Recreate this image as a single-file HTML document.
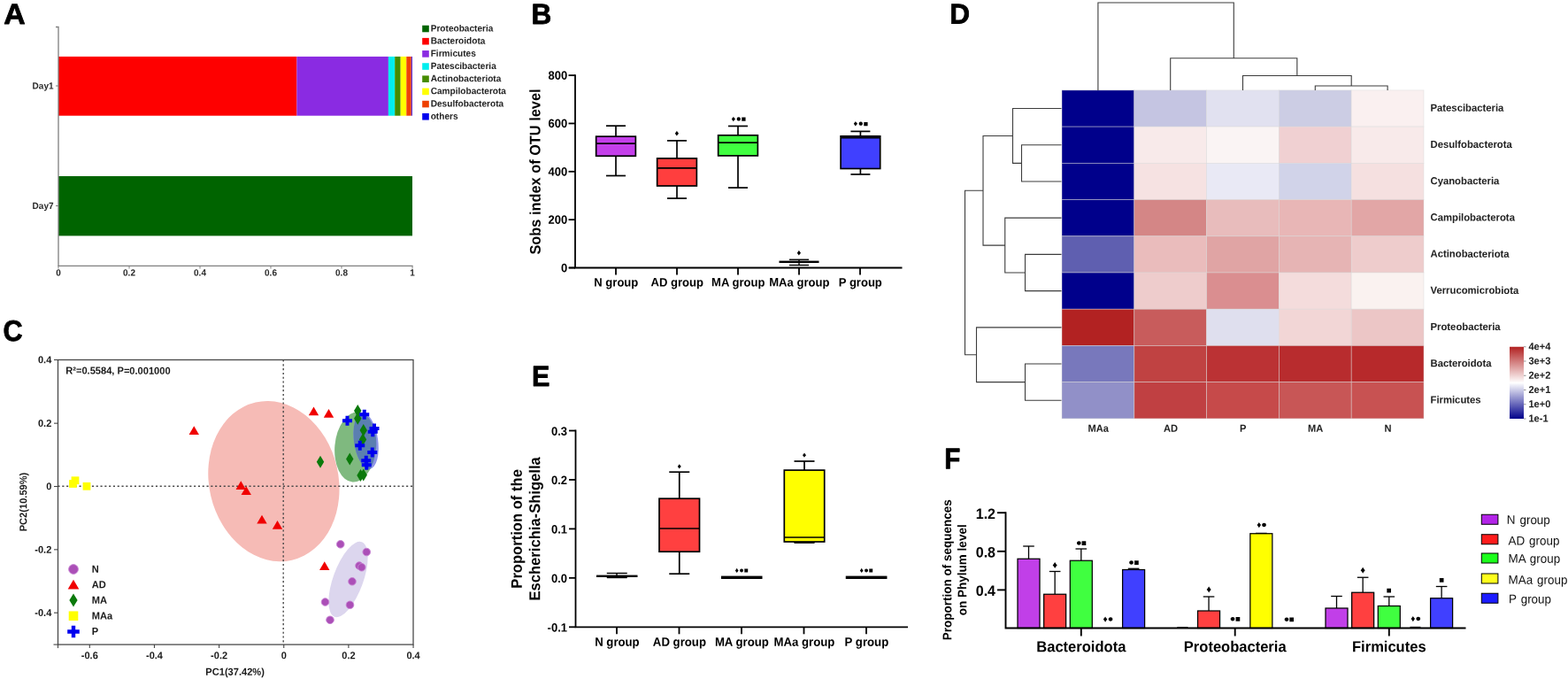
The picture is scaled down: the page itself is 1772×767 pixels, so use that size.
<!DOCTYPE html>
<html lang="en">
<head>
<meta charset="utf-8">
<title>Figure: gut microbiota composition</title>
<style>
html,body{margin:0;padding:0;background:#fff;}
body{width:1772px;height:767px;overflow:hidden;}
svg{display:block;font-family:"Liberation Sans",sans-serif;font-weight:bold;text-rendering:geometricPrecision;}
svg text{white-space:pre;}
</style>
</head>
<body>
<svg width="1772" height="767" viewBox="0 0 1772 767">
<rect x="0" y="0" width="1772" height="767" fill="#ffffff"/>
<!-- Panel A: community bar plot -->
<g id="panel-a">
<rect x="66" y="63.9" width="269.4" height="66.8" fill="#fe0000"/>
<rect x="335.4" y="63.9" width="103.5" height="66.8" fill="#8a2be2"/>
<rect x="438.9" y="63.9" width="7.3" height="66.8" fill="#00eeee"/>
<rect x="446.2" y="63.9" width="6.5" height="66.8" fill="#458b00"/>
<rect x="452.7" y="63.9" width="6.6" height="66.8" fill="#ffff00"/>
<rect x="459.3" y="63.9" width="5.5" height="66.8" fill="#f04208"/>
<rect x="464.8" y="63.9" width="1.2" height="66.8" fill="#5a2ad0"/>
<rect x="66" y="199" width="400" height="67.4" fill="#006400"/>
<path d="M63 30.5H66V300.3H466.5" fill="none" stroke="#7f7f7f" stroke-width="1.3"/>
<line x1="63" y1="97" x2="66" y2="97" stroke="#7f7f7f" stroke-width="1"/>
<line x1="63" y1="232.5" x2="66" y2="232.5" stroke="#7f7f7f" stroke-width="1"/>
<line x1="66" y1="300" x2="66" y2="303.5" stroke="#7f7f7f" stroke-width="1"/>
<text font-size="10" text-anchor="middle" fill="#2a2a2a" transform="translate(66 311.4) rotate(0.05) scale(1 1.04)">0</text>
<line x1="146" y1="300" x2="146" y2="303.5" stroke="#7f7f7f" stroke-width="1"/>
<text font-size="10" text-anchor="middle" fill="#2a2a2a" transform="translate(146 311.4) rotate(0.05) scale(1 1.04)">0.2</text>
<line x1="226" y1="300" x2="226" y2="303.5" stroke="#7f7f7f" stroke-width="1"/>
<text font-size="10" text-anchor="middle" fill="#2a2a2a" transform="translate(226 311.4) rotate(0.05) scale(1 1.04)">0.4</text>
<line x1="306" y1="300" x2="306" y2="303.5" stroke="#7f7f7f" stroke-width="1"/>
<text font-size="10" text-anchor="middle" fill="#2a2a2a" transform="translate(306 311.4) rotate(0.05) scale(1 1.04)">0.6</text>
<line x1="386" y1="300" x2="386" y2="303.5" stroke="#7f7f7f" stroke-width="1"/>
<text font-size="10" text-anchor="middle" fill="#2a2a2a" transform="translate(386 311.4) rotate(0.05) scale(1 1.04)">0.8</text>
<line x1="466" y1="300" x2="466" y2="303.5" stroke="#7f7f7f" stroke-width="1"/>
<text font-size="10" text-anchor="middle" fill="#2a2a2a" transform="translate(466 311.4) rotate(0.05) scale(1 1.04)">1</text>
<text font-size="10" text-anchor="end" fill="#2a2a2a" transform="translate(60.5 100.6) rotate(0.05) scale(1 1.04)">Day1</text>
<text font-size="10" text-anchor="end" fill="#2a2a2a" transform="translate(60.5 236) rotate(0.05) scale(1 1.04)">Day7</text>
<rect x="477.2" y="28.7" width="7.6" height="7.6" fill="#006400"/>
<text font-size="10.1" fill="#222" transform="translate(486.7 35.4) rotate(0.05) scale(1 1.04)">Proteobacteria</text>
<rect x="477.2" y="42.88" width="7.6" height="7.6" fill="#fe0000"/>
<text font-size="10.1" fill="#222" transform="translate(486.7 49.58) rotate(0.05) scale(1 1.04)">Bacteroidota</text>
<rect x="477.2" y="57.06" width="7.6" height="7.6" fill="#8a2be2"/>
<text font-size="10.1" fill="#222" transform="translate(486.7 63.76) rotate(0.05) scale(1 1.04)">Firmicutes</text>
<rect x="477.2" y="71.24" width="7.6" height="7.6" fill="#00eeee"/>
<text font-size="10.1" fill="#222" transform="translate(486.7 77.94) rotate(0.05) scale(1 1.04)">Patescibacteria</text>
<rect x="477.2" y="85.42" width="7.6" height="7.6" fill="#458b00"/>
<text font-size="10.1" fill="#222" transform="translate(486.7 92.12) rotate(0.05) scale(1 1.04)">Actinobacteriota</text>
<rect x="477.2" y="99.6" width="7.6" height="7.6" fill="#ffff00"/>
<text font-size="10.1" fill="#222" transform="translate(486.7 106.3) rotate(0.05) scale(1 1.04)">Campilobacterota</text>
<rect x="477.2" y="113.78" width="7.6" height="7.6" fill="#ee4000"/>
<text font-size="10.1" fill="#222" transform="translate(486.7 120.48) rotate(0.05) scale(1 1.04)">Desulfobacterota</text>
<rect x="477.2" y="127.96" width="7.6" height="7.6" fill="#0000ee"/>
<text font-size="10.1" fill="#222" transform="translate(486.7 134.66) rotate(0.05) scale(1 1.04)">others</text>
</g>
<!-- Panel B: Sobs index box plot -->
<g id="panel-b">
<path d="M650 84.2V302.5H1019.5" fill="none" stroke="#000" stroke-width="1.8"/>
<line x1="643" y1="302.5" x2="650" y2="302.5" stroke="#000" stroke-width="1.8"/>
<line x1="642.5" y1="302.5" x2="650" y2="302.5" stroke="#000" stroke-width="1.8"/>
<text font-size="13" text-anchor="end" transform="translate(641.3 307.15) rotate(0.05) scale(1 1.04)">0</text>
<line x1="642.5" y1="248.15" x2="650" y2="248.15" stroke="#000" stroke-width="1.8"/>
<text font-size="13" text-anchor="end" transform="translate(641.3 252.8) rotate(0.05) scale(1 1.04)">200</text>
<line x1="642.5" y1="193.8" x2="650" y2="193.8" stroke="#000" stroke-width="1.8"/>
<text font-size="13" text-anchor="end" transform="translate(641.3 198.45) rotate(0.05) scale(1 1.04)">400</text>
<line x1="642.5" y1="139.45" x2="650" y2="139.45" stroke="#000" stroke-width="1.8"/>
<text font-size="13" text-anchor="end" transform="translate(641.3 144.1) rotate(0.05) scale(1 1.04)">600</text>
<line x1="642.5" y1="85.1" x2="650" y2="85.1" stroke="#000" stroke-width="1.8"/>
<text font-size="13" text-anchor="end" transform="translate(641.3 89.75) rotate(0.05) scale(1 1.04)">800</text>
<line x1="696" y1="302.5" x2="696" y2="310.5" stroke="#000" stroke-width="1.8"/>
<text font-size="13.05" text-anchor="middle" transform="translate(696.3 323.4) rotate(0.05) scale(1 1.04)">N group</text>
<line x1="765" y1="302.5" x2="765" y2="310.5" stroke="#000" stroke-width="1.8"/>
<text font-size="13.05" text-anchor="middle" transform="translate(765.3 323.4) rotate(0.05) scale(1 1.04)">AD group</text>
<line x1="834" y1="302.5" x2="834" y2="310.5" stroke="#000" stroke-width="1.8"/>
<text font-size="13.05" text-anchor="middle" transform="translate(834.3 323.4) rotate(0.05) scale(1 1.04)">MA group</text>
<line x1="903" y1="302.5" x2="903" y2="310.5" stroke="#000" stroke-width="1.8"/>
<text font-size="13.05" text-anchor="middle" transform="translate(903.3 323.4) rotate(0.05) scale(1 1.04)">MAa group</text>
<line x1="972" y1="302.5" x2="972" y2="310.5" stroke="#000" stroke-width="1.8"/>
<text font-size="13.05" text-anchor="middle" transform="translate(972.3 323.4) rotate(0.05) scale(1 1.04)">P group</text>
<text y="5.38" font-size="16.35" text-anchor="middle" transform="translate(605 194) rotate(-90.05) scale(1 1.04)">Sobs index of OTU level</text>
<line x1="696" y1="142.15" x2="696" y2="154.15" stroke="#000" stroke-width="1.7"/>
<line x1="696" y1="176.25" x2="696" y2="198.5" stroke="#000" stroke-width="1.7"/>
<line x1="685" y1="142.15" x2="707" y2="142.15" stroke="#000" stroke-width="1.7"/>
<line x1="685" y1="198.5" x2="707" y2="198.5" stroke="#000" stroke-width="1.7"/>
<rect x="673.65" y="154.15" width="44.7" height="22.1" fill="#c43fea" stroke="#000" stroke-width="1.7"/>
<line x1="673.65" y1="162.15" x2="718.35" y2="162.15" stroke="#000" stroke-width="1.7"/>
<line x1="765" y1="158.9" x2="765" y2="178.9" stroke="#000" stroke-width="1.7"/>
<line x1="765" y1="210" x2="765" y2="224.05" stroke="#000" stroke-width="1.7"/>
<line x1="754" y1="158.9" x2="776" y2="158.9" stroke="#000" stroke-width="1.7"/>
<line x1="754" y1="224.05" x2="776" y2="224.05" stroke="#000" stroke-width="1.7"/>
<rect x="742.65" y="178.9" width="44.7" height="31.1" fill="#ff3e3e" stroke="#000" stroke-width="1.7"/>
<line x1="742.65" y1="189.9" x2="787.35" y2="189.9" stroke="#000" stroke-width="1.7"/>
<line x1="834" y1="142.45" x2="834" y2="152.8" stroke="#000" stroke-width="1.7"/>
<line x1="834" y1="175.9" x2="834" y2="212.05" stroke="#000" stroke-width="1.7"/>
<line x1="823" y1="142.45" x2="845" y2="142.45" stroke="#000" stroke-width="1.7"/>
<line x1="823" y1="212.05" x2="845" y2="212.05" stroke="#000" stroke-width="1.7"/>
<rect x="811.65" y="152.8" width="44.7" height="23.1" fill="#40ff40" stroke="#000" stroke-width="1.7"/>
<line x1="811.65" y1="161.05" x2="856.35" y2="161.05" stroke="#000" stroke-width="1.7"/>
<line x1="972.4" y1="148.4" x2="972.4" y2="153.8" stroke="#000" stroke-width="1.7"/>
<line x1="972.4" y1="190.5" x2="972.4" y2="196.95" stroke="#000" stroke-width="1.7"/>
<line x1="961.4" y1="148.4" x2="983.4" y2="148.4" stroke="#000" stroke-width="1.7"/>
<line x1="961.4" y1="196.95" x2="983.4" y2="196.95" stroke="#000" stroke-width="1.7"/>
<rect x="950.1" y="153.8" width="44.6" height="36.7" fill="#4040ff" stroke="#000" stroke-width="1.7"/>
<line x1="950.1" y1="155.5" x2="994.7" y2="155.5" stroke="#000" stroke-width="1.8"/>
<line x1="892" y1="293.25" x2="914" y2="293.25" stroke="#000" stroke-width="1.4"/>
<line x1="892" y1="299.5" x2="914" y2="299.5" stroke="#000" stroke-width="1.4"/>
<line x1="903" y1="293.25" x2="903" y2="299.5" stroke="#000" stroke-width="1.4"/>
<rect x="880.5" y="294.6" width="45" height="2.4" fill="#000"/>
<text y="153.52" text-anchor="middle" font-weight="normal" transform="rotate(0.05 765 153.52)"><tspan x="765" font-size="9.46">♦</tspan></text>
<text y="137.24" text-anchor="middle" font-weight="normal" transform="rotate(0.05 834.7 137.24)"><tspan x="828.85" font-size="9.36">♦</tspan><tspan x="834.7" font-size="10">●</tspan><tspan x="840.55" font-size="8.88">■</tspan></text>
<text y="142.64" text-anchor="middle" font-weight="normal" transform="rotate(0.05 972.7 142.64)"><tspan x="966.85" font-size="9.36">♦</tspan><tspan x="972.7" font-size="10">●</tspan><tspan x="978.55" font-size="8.88">■</tspan></text>
<text y="288.52" text-anchor="middle" font-weight="normal" transform="rotate(0.05 903 288.52)"><tspan x="903" font-size="9.46">♦</tspan></text>
</g>
<!-- Panel C: PCoA -->
<g id="panel-c">
<ellipse cx="309.4" cy="543.6" rx="73.1" ry="91.4" fill="#f6bbb6" transform="rotate(-13 309.4 543.6)"/>
<ellipse cx="401.7" cy="505" rx="23.4" ry="39.6" fill="#7fb97f" transform="rotate(5 401.7 505)"/>
<ellipse cx="413.6" cy="498" rx="13.6" ry="32" fill="#8f97e8" transform="rotate(-8 413.6 498)"/>
<clipPath id="cg"><ellipse cx="401.7" cy="505" rx="23.4" ry="39.6" transform="rotate(5 401.7 505)"/></clipPath>
<g clip-path="url(#cg)"><ellipse cx="413.6" cy="498" rx="13.6" ry="32" fill="#5b7fb0" transform="rotate(-8 413.6 498)"/></g>
<ellipse cx="393.5" cy="654.5" rx="17" ry="45" fill="#dcd6ee" transform="rotate(20 393.5 654.5)"/>
<line x1="65.5" y1="549.2" x2="467" y2="549.2" stroke="#4a4a4a" stroke-width="1.4" stroke-dasharray="2.1 2.7"/>
<line x1="320.2" y1="406.5" x2="320.2" y2="728.1" stroke="#4a4a4a" stroke-width="1.4" stroke-dasharray="2.1 2.7"/>
<rect x="65.5" y="406.5" width="401.5" height="321.6" fill="none" stroke="#444" stroke-width="1.25"/>
<line x1="60.5" y1="728.1" x2="65.5" y2="728.1" stroke="#444" stroke-width="1.1"/>
<line x1="61" y1="406.5" x2="65.5" y2="406.5" stroke="#444" stroke-width="1.1"/>
<text font-size="11" text-anchor="end" fill="#1a1a1a" transform="translate(58.3 410.34) rotate(0.05) scale(1 1.04)">0.4</text>
<line x1="61" y1="478.15" x2="65.5" y2="478.15" stroke="#444" stroke-width="1.1"/>
<text font-size="11" text-anchor="end" fill="#1a1a1a" transform="translate(58.3 481.99) rotate(0.05) scale(1 1.04)">0.2</text>
<line x1="61" y1="549.5" x2="65.5" y2="549.5" stroke="#444" stroke-width="1.1"/>
<text font-size="11" text-anchor="end" fill="#1a1a1a" transform="translate(58.3 553.34) rotate(0.05) scale(1 1.04)">0</text>
<line x1="61" y1="620.85" x2="65.5" y2="620.85" stroke="#444" stroke-width="1.1"/>
<text font-size="11" text-anchor="end" fill="#1a1a1a" transform="translate(58.3 624.69) rotate(0.05) scale(1 1.04)">-0.2</text>
<line x1="61" y1="692.2" x2="65.5" y2="692.2" stroke="#444" stroke-width="1.1"/>
<text font-size="11" text-anchor="end" fill="#1a1a1a" transform="translate(58.3 696.04) rotate(0.05) scale(1 1.04)">-0.4</text>
<line x1="101.3" y1="728.1" x2="101.3" y2="732.1" stroke="#444" stroke-width="1.1"/>
<text font-size="11" text-anchor="middle" fill="#1a1a1a" transform="translate(101.3 744.14) rotate(0.05) scale(1 1.04)">-0.6</text>
<line x1="174.45" y1="728.1" x2="174.45" y2="732.1" stroke="#444" stroke-width="1.1"/>
<text font-size="11" text-anchor="middle" fill="#1a1a1a" transform="translate(174.45 744.14) rotate(0.05) scale(1 1.04)">-0.4</text>
<line x1="247.6" y1="728.1" x2="247.6" y2="732.1" stroke="#444" stroke-width="1.1"/>
<text font-size="11" text-anchor="middle" fill="#1a1a1a" transform="translate(247.6 744.14) rotate(0.05) scale(1 1.04)">-0.2</text>
<line x1="320.75" y1="728.1" x2="320.75" y2="732.1" stroke="#444" stroke-width="1.1"/>
<text font-size="11" text-anchor="middle" fill="#1a1a1a" transform="translate(320.75 744.14) rotate(0.05) scale(1 1.04)">0</text>
<line x1="393.9" y1="728.1" x2="393.9" y2="732.1" stroke="#444" stroke-width="1.1"/>
<text font-size="11" text-anchor="middle" fill="#1a1a1a" transform="translate(393.9 744.14) rotate(0.05) scale(1 1.04)">0.2</text>
<line x1="467.05" y1="728.1" x2="467.05" y2="732.1" stroke="#444" stroke-width="1.1"/>
<text font-size="11" text-anchor="middle" fill="#1a1a1a" transform="translate(467.05 744.14) rotate(0.05) scale(1 1.04)">0.4</text>
<line x1="65.5" y1="728.1" x2="65.5" y2="732.1" stroke="#444" stroke-width="1.1"/>
<text font-size="11.1" text-anchor="middle" fill="#1a1a1a" transform="translate(265.6 762.67) rotate(0.05) scale(1 1.04)">PC1(37.42%)</text>
<text y="3.65" font-size="11.1" text-anchor="middle" fill="#1a1a1a" transform="translate(26.5 567) rotate(-90.05) scale(1 1.04)">PC2(10.59%)</text>
<text font-size="11.1" fill="#1a1a1a" transform="translate(74.2 422.57) rotate(0.05) scale(1 1.04)">R²=0.5584, P=0.001000</text>
<rect x="80.6" y="538.35" width="8.8" height="8.8" fill="#ffff00"/>
<rect x="78.1" y="542.1" width="8.8" height="8.8" fill="#ffff00"/>
<rect x="93.6" y="544.9" width="8.8" height="8.8" fill="#ffff00"/>
<path d="M219.25 481.22L224.95 491.02L213.55 491.02Z" fill="#f00000"/>
<path d="M354.5 459.47L360.2 469.27L348.8 469.27Z" fill="#f00000"/>
<path d="M371.5 461.97L377.2 471.77L365.8 471.77Z" fill="#f00000"/>
<path d="M272.25 543.22L277.95 553.02L266.55 553.02Z" fill="#f00000"/>
<path d="M278.25 549.22L283.95 559.02L272.55 559.02Z" fill="#f00000"/>
<path d="M296 581.72L301.7 591.52L290.3 591.52Z" fill="#f00000"/>
<path d="M313.5 587.97L319.2 597.77L307.8 597.77Z" fill="#f00000"/>
<path d="M366.75 634.22L372.45 644.02L361.05 644.02Z" fill="#f00000"/>
<path d="M404.25 456.9L408.45 464L404.25 471.1L400.05 464Z" fill="#0b7a0b"/>
<path d="M404.25 465.65L408.45 472.75L404.25 479.85L400.05 472.75Z" fill="#0b7a0b"/>
<path d="M410.75 478.9L414.95 486L410.75 493.1L406.55 486Z" fill="#0b7a0b"/>
<path d="M410 489.4L414.2 496.5L410 503.6L405.8 496.5Z" fill="#0b7a0b"/>
<path d="M395.25 511.4L399.45 518.5L395.25 525.6L391.05 518.5Z" fill="#0b7a0b"/>
<path d="M362 514.65L366.2 521.75L362 528.85L357.8 521.75Z" fill="#0b7a0b"/>
<path d="M407.5 529.9L411.7 537L407.5 544.1L403.3 537Z" fill="#0b7a0b"/>
<path d="M410.75 529.4L414.95 536.5L410.75 543.6L406.55 536.5Z" fill="#0b7a0b"/>
<path d="M390.5 469.75h4v3.5h3.5v4h-3.5v3.5h-4v-3.5h-3.5v-4h3.5z" fill="#0000ee"/>
<path d="M409.75 462.75h4v3.5h3.5v4h-3.5v3.5h-4v-3.5h-3.5v-4h3.5z" fill="#0000ee"/>
<path d="M421 478.5h4v3.5h3.5v4h-3.5v3.5h-4v-3.5h-3.5v-4h3.5z" fill="#0000ee"/>
<path d="M419.25 482.25h4v3.5h3.5v4h-3.5v3.5h-4v-3.5h-3.5v-4h3.5z" fill="#0000ee"/>
<path d="M404.75 497.75h4v3.5h3.5v4h-3.5v3.5h-4v-3.5h-3.5v-4h3.5z" fill="#0000ee"/>
<path d="M418.75 505.5h4v3.5h3.5v4h-3.5v3.5h-4v-3.5h-3.5v-4h3.5z" fill="#0000ee"/>
<path d="M411.75 514.75h4v3.5h3.5v4h-3.5v3.5h-4v-3.5h-3.5v-4h3.5z" fill="#0000ee"/>
<path d="M412.25 519.75h4v3.5h3.5v4h-3.5v3.5h-4v-3.5h-3.5v-4h3.5z" fill="#0000ee"/>
<circle cx="384.75" cy="614.8" r="4.3" fill="#ab4fb7" stroke="#c682d3" stroke-width="0.9"/>
<circle cx="414.25" cy="623.55" r="4.3" fill="#ab4fb7" stroke="#c682d3" stroke-width="0.9"/>
<circle cx="406" cy="639.05" r="4.3" fill="#ab4fb7" stroke="#c682d3" stroke-width="0.9"/>
<circle cx="408.75" cy="640.8" r="4.3" fill="#ab4fb7" stroke="#c682d3" stroke-width="0.9"/>
<circle cx="398" cy="656.8" r="4.3" fill="#ab4fb7" stroke="#c682d3" stroke-width="0.9"/>
<circle cx="367.5" cy="680.05" r="4.3" fill="#ab4fb7" stroke="#c682d3" stroke-width="0.9"/>
<circle cx="395.5" cy="683.3" r="4.3" fill="#ab4fb7" stroke="#c682d3" stroke-width="0.9"/>
<circle cx="373" cy="700.3" r="4.3" fill="#ab4fb7" stroke="#c682d3" stroke-width="0.9"/>
<circle cx="83" cy="643" r="5.4" fill="#ab4fb7" stroke="#c682d3" stroke-width="0.9"/>
<path d="M83 654.7L89.3 665.53L76.7 665.53Z" fill="#f00000"/>
<path d="M83 670.6L87.6 678L83 685.4L78.4 678Z" fill="#0b7a0b"/>
<rect x="77.7" y="690.45" width="10.6" height="10.6" fill="#ffff00"/>
<path d="M80.8 706.7h4.4v4.6h4.6v4.4h-4.6v4.6h-4.4v-4.6h-4.6v-4.4h4.6z" fill="#0000ee"/>
<text font-size="11.1" fill="#1a1a1a" transform="translate(103.7 646.77) rotate(0.05) scale(1 1.04)">N</text>
<text font-size="11.1" fill="#1a1a1a" transform="translate(103.7 664.27) rotate(0.05) scale(1 1.04)">AD</text>
<text font-size="11.1" fill="#1a1a1a" transform="translate(103.7 681.77) rotate(0.05) scale(1 1.04)">MA</text>
<text font-size="11.1" fill="#1a1a1a" transform="translate(103.7 699.52) rotate(0.05) scale(1 1.04)">MAa</text>
<text font-size="11.1" fill="#1a1a1a" transform="translate(103.7 717.02) rotate(0.05) scale(1 1.04)">P</text>
</g>
<!-- Panel D: heatmap -->
<g id="panel-d">
<rect x="1200" y="101.9" width="81.8" height="41.22" fill="#00008b" stroke="#d8d8d8" stroke-width="0.75" stroke-opacity="0.6"/>
<rect x="1281.8" y="101.9" width="81.8" height="41.22" fill="#c5c5e2" stroke="#d8d8d8" stroke-width="0.75" stroke-opacity="0.6"/>
<rect x="1363.6" y="101.9" width="81.8" height="41.22" fill="#e1e1f0" stroke="#d8d8d8" stroke-width="0.75" stroke-opacity="0.6"/>
<rect x="1445.4" y="101.9" width="81.8" height="41.22" fill="#cccde4" stroke="#d8d8d8" stroke-width="0.75" stroke-opacity="0.6"/>
<rect x="1527.2" y="101.9" width="81.8" height="41.22" fill="#faf0f0" stroke="#d8d8d8" stroke-width="0.75" stroke-opacity="0.6"/>
<rect x="1200" y="143.12" width="81.8" height="41.22" fill="#00008b" stroke="#d8d8d8" stroke-width="0.75" stroke-opacity="0.6"/>
<rect x="1281.8" y="143.12" width="81.8" height="41.22" fill="#f8eaea" stroke="#d8d8d8" stroke-width="0.75" stroke-opacity="0.6"/>
<rect x="1363.6" y="143.12" width="81.8" height="41.22" fill="#faf4f4" stroke="#d8d8d8" stroke-width="0.75" stroke-opacity="0.6"/>
<rect x="1445.4" y="143.12" width="81.8" height="41.22" fill="#f0d0d2" stroke="#d8d8d8" stroke-width="0.75" stroke-opacity="0.6"/>
<rect x="1527.2" y="143.12" width="81.8" height="41.22" fill="#f8eaea" stroke="#d8d8d8" stroke-width="0.75" stroke-opacity="0.6"/>
<rect x="1200" y="184.34" width="81.8" height="41.22" fill="#00008b" stroke="#d8d8d8" stroke-width="0.75" stroke-opacity="0.6"/>
<rect x="1281.8" y="184.34" width="81.8" height="41.22" fill="#f6e2e2" stroke="#d8d8d8" stroke-width="0.75" stroke-opacity="0.6"/>
<rect x="1363.6" y="184.34" width="81.8" height="41.22" fill="#e9e9f5" stroke="#d8d8d8" stroke-width="0.75" stroke-opacity="0.6"/>
<rect x="1445.4" y="184.34" width="81.8" height="41.22" fill="#d1d3e9" stroke="#d8d8d8" stroke-width="0.75" stroke-opacity="0.6"/>
<rect x="1527.2" y="184.34" width="81.8" height="41.22" fill="#f5e0e0" stroke="#d8d8d8" stroke-width="0.75" stroke-opacity="0.6"/>
<rect x="1200" y="225.56" width="81.8" height="41.22" fill="#00008b" stroke="#d8d8d8" stroke-width="0.75" stroke-opacity="0.6"/>
<rect x="1281.8" y="225.56" width="81.8" height="41.22" fill="#d48686" stroke="#d8d8d8" stroke-width="0.75" stroke-opacity="0.6"/>
<rect x="1363.6" y="225.56" width="81.8" height="41.22" fill="#e8bcbc" stroke="#d8d8d8" stroke-width="0.75" stroke-opacity="0.6"/>
<rect x="1445.4" y="225.56" width="81.8" height="41.22" fill="#e8b6b6" stroke="#d8d8d8" stroke-width="0.75" stroke-opacity="0.6"/>
<rect x="1527.2" y="225.56" width="81.8" height="41.22" fill="#e2a6a6" stroke="#d8d8d8" stroke-width="0.75" stroke-opacity="0.6"/>
<rect x="1200" y="266.78" width="81.8" height="41.22" fill="#5f5fb0" stroke="#d8d8d8" stroke-width="0.75" stroke-opacity="0.6"/>
<rect x="1281.8" y="266.78" width="81.8" height="41.22" fill="#eabcbc" stroke="#d8d8d8" stroke-width="0.75" stroke-opacity="0.6"/>
<rect x="1363.6" y="266.78" width="81.8" height="41.22" fill="#e0a4a4" stroke="#d8d8d8" stroke-width="0.75" stroke-opacity="0.6"/>
<rect x="1445.4" y="266.78" width="81.8" height="41.22" fill="#e6b4b4" stroke="#d8d8d8" stroke-width="0.75" stroke-opacity="0.6"/>
<rect x="1527.2" y="266.78" width="81.8" height="41.22" fill="#eecccc" stroke="#d8d8d8" stroke-width="0.75" stroke-opacity="0.6"/>
<rect x="1200" y="308" width="81.8" height="41.22" fill="#00008b" stroke="#d8d8d8" stroke-width="0.75" stroke-opacity="0.6"/>
<rect x="1281.8" y="308" width="81.8" height="41.22" fill="#eecccc" stroke="#d8d8d8" stroke-width="0.75" stroke-opacity="0.6"/>
<rect x="1363.6" y="308" width="81.8" height="41.22" fill="#da8e90" stroke="#d8d8d8" stroke-width="0.75" stroke-opacity="0.6"/>
<rect x="1445.4" y="308" width="81.8" height="41.22" fill="#f4dcdc" stroke="#d8d8d8" stroke-width="0.75" stroke-opacity="0.6"/>
<rect x="1527.2" y="308" width="81.8" height="41.22" fill="#faf2f0" stroke="#d8d8d8" stroke-width="0.75" stroke-opacity="0.6"/>
<rect x="1200" y="349.22" width="81.8" height="41.22" fill="#b22222" stroke="#d8d8d8" stroke-width="0.75" stroke-opacity="0.6"/>
<rect x="1281.8" y="349.22" width="81.8" height="41.22" fill="#c85c5c" stroke="#d8d8d8" stroke-width="0.75" stroke-opacity="0.6"/>
<rect x="1363.6" y="349.22" width="81.8" height="41.22" fill="#dfdfee" stroke="#d8d8d8" stroke-width="0.75" stroke-opacity="0.6"/>
<rect x="1445.4" y="349.22" width="81.8" height="41.22" fill="#f2d6d6" stroke="#d8d8d8" stroke-width="0.75" stroke-opacity="0.6"/>
<rect x="1527.2" y="349.22" width="81.8" height="41.22" fill="#ecc6c6" stroke="#d8d8d8" stroke-width="0.75" stroke-opacity="0.6"/>
<rect x="1200" y="390.44" width="81.8" height="41.22" fill="#7878bc" stroke="#d8d8d8" stroke-width="0.75" stroke-opacity="0.6"/>
<rect x="1281.8" y="390.44" width="81.8" height="41.22" fill="#c04242" stroke="#d8d8d8" stroke-width="0.75" stroke-opacity="0.6"/>
<rect x="1363.6" y="390.44" width="81.8" height="41.22" fill="#bb3234" stroke="#d8d8d8" stroke-width="0.75" stroke-opacity="0.6"/>
<rect x="1445.4" y="390.44" width="81.8" height="41.22" fill="#b82c2e" stroke="#d8d8d8" stroke-width="0.75" stroke-opacity="0.6"/>
<rect x="1527.2" y="390.44" width="81.8" height="41.22" fill="#b7292b" stroke="#d8d8d8" stroke-width="0.75" stroke-opacity="0.6"/>
<rect x="1200" y="431.66" width="81.8" height="41.22" fill="#9190c8" stroke="#d8d8d8" stroke-width="0.75" stroke-opacity="0.6"/>
<rect x="1281.8" y="431.66" width="81.8" height="41.22" fill="#c04042" stroke="#d8d8d8" stroke-width="0.75" stroke-opacity="0.6"/>
<rect x="1363.6" y="431.66" width="81.8" height="41.22" fill="#c64a4a" stroke="#d8d8d8" stroke-width="0.75" stroke-opacity="0.6"/>
<rect x="1445.4" y="431.66" width="81.8" height="41.22" fill="#c85656" stroke="#d8d8d8" stroke-width="0.75" stroke-opacity="0.6"/>
<rect x="1527.2" y="431.66" width="81.8" height="41.22" fill="#c85252" stroke="#d8d8d8" stroke-width="0.75" stroke-opacity="0.6"/>
<path d="M1486.3 101.9V97H1568.1V101.9M1404.5 101.9V85.5H1527.2V97M1322.7 101.9V65.75H1465.85V85.5M1240.9 101.9V3H1394.28V65.75" fill="none" stroke="#3c3c3c" stroke-width="1.1"/>
<path d="M1199.5 163.73H1154.5V204.95H1199.5M1199.5 122.51H1144.5V184.34H1154.5M1199.5 287.39H1158.5V328.61H1199.5M1199.5 246.17H1135.75V308H1158.5M1144.5 153.43H1111V277.09H1135.75M1199.5 411.05H1158.5V452.27H1199.5M1199.5 369.83H1103.5V431.66H1158.5M1111 215.26H1090.5V400.75H1103.5" fill="none" stroke="#3c3c3c" stroke-width="1.1"/>
<text font-size="11.3" fill="#222" transform="translate(1616.5 125.71) rotate(0.05) scale(1 1.04)">Patescibacteria</text>
<text font-size="11.3" fill="#222" transform="translate(1616.5 166.93) rotate(0.05) scale(1 1.04)">Desulfobacterota</text>
<text font-size="11.3" fill="#222" transform="translate(1616.5 208.15) rotate(0.05) scale(1 1.04)">Cyanobacteria</text>
<text font-size="11.3" fill="#222" transform="translate(1616.5 249.37) rotate(0.05) scale(1 1.04)">Campilobacterota</text>
<text font-size="11.3" fill="#222" transform="translate(1616.5 290.59) rotate(0.05) scale(1 1.04)">Actinobacteriota</text>
<text font-size="11.3" fill="#222" transform="translate(1616.5 331.81) rotate(0.05) scale(1 1.04)">Verrucomicrobiota</text>
<text font-size="11.3" fill="#222" transform="translate(1616.5 373.03) rotate(0.05) scale(1 1.04)">Proteobacteria</text>
<text font-size="11.3" fill="#222" transform="translate(1616.5 414.25) rotate(0.05) scale(1 1.04)">Bacteroidota</text>
<text font-size="11.3" fill="#222" transform="translate(1616.5 455.47) rotate(0.05) scale(1 1.04)">Firmicutes</text>
<text font-size="11.1" text-anchor="middle" fill="#222" transform="translate(1241.2 487.87) rotate(0.05) scale(1 1.04)">MAa</text>
<text font-size="11.1" text-anchor="middle" fill="#222" transform="translate(1323 487.87) rotate(0.05) scale(1 1.04)">AD</text>
<text font-size="11.1" text-anchor="middle" fill="#222" transform="translate(1404.8 487.87) rotate(0.05) scale(1 1.04)">P</text>
<text font-size="11.1" text-anchor="middle" fill="#222" transform="translate(1486.6 487.87) rotate(0.05) scale(1 1.04)">MA</text>
<text font-size="11.1" text-anchor="middle" fill="#222" transform="translate(1568.4 487.87) rotate(0.05) scale(1 1.04)">N</text>
<defs><linearGradient id="cb" x1="0" y1="0" x2="0" y2="1"><stop offset="0" stop-color="#b22222"/><stop offset="0.5" stop-color="#ffffff"/><stop offset="1" stop-color="#00008b"/></linearGradient></defs>
<rect x="1706" y="391.75" width="16" height="81.25" fill="url(#cb)"/>
<line x1="1722" y1="391.75" x2="1724.5" y2="391.75" stroke="#777" stroke-width="0.8"/>
<text font-size="11.1" fill="#222" transform="translate(1727.4 395.22) rotate(0.05) scale(1 1.04)">4e+4</text>
<line x1="1722" y1="408" x2="1724.5" y2="408" stroke="#777" stroke-width="0.8"/>
<text font-size="11.1" fill="#222" transform="translate(1727.4 411.47) rotate(0.05) scale(1 1.04)">3e+3</text>
<line x1="1722" y1="424.25" x2="1724.5" y2="424.25" stroke="#777" stroke-width="0.8"/>
<text font-size="11.1" fill="#222" transform="translate(1727.4 427.72) rotate(0.05) scale(1 1.04)">2e+2</text>
<line x1="1722" y1="440.5" x2="1724.5" y2="440.5" stroke="#777" stroke-width="0.8"/>
<text font-size="11.1" fill="#222" transform="translate(1727.4 443.97) rotate(0.05) scale(1 1.04)">2e+1</text>
<line x1="1722" y1="456.75" x2="1724.5" y2="456.75" stroke="#777" stroke-width="0.8"/>
<text font-size="11.1" fill="#222" transform="translate(1727.4 460.22) rotate(0.05) scale(1 1.04)">1e+0</text>
<line x1="1722" y1="473" x2="1724.5" y2="473" stroke="#777" stroke-width="0.8"/>
<text font-size="11.1" fill="#222" transform="translate(1727.4 476.47) rotate(0.05) scale(1 1.04)">1e-1</text>
</g>
<!-- Panel E: Escherichia-Shigella box plot -->
<g id="panel-e">
<path d="M650.5 485.6V708.3H1026" fill="none" stroke="#000" stroke-width="1.8"/>
<line x1="643" y1="486.5" x2="650.5" y2="486.5" stroke="#000" stroke-width="1.8"/>
<text font-size="13" text-anchor="end" transform="translate(641 491.65) rotate(0.05) scale(1 1.04)">0.3</text>
<line x1="643" y1="541.95" x2="650.5" y2="541.95" stroke="#000" stroke-width="1.8"/>
<text font-size="13" text-anchor="end" transform="translate(641 547.1) rotate(0.05) scale(1 1.04)">0.2</text>
<line x1="643" y1="597.4" x2="650.5" y2="597.4" stroke="#000" stroke-width="1.8"/>
<text font-size="13" text-anchor="end" transform="translate(641 602.55) rotate(0.05) scale(1 1.04)">0.1</text>
<line x1="643" y1="652.85" x2="650.5" y2="652.85" stroke="#000" stroke-width="1.8"/>
<text font-size="13" text-anchor="end" transform="translate(641 658) rotate(0.05) scale(1 1.04)">0.0</text>
<line x1="643" y1="708.3" x2="650.5" y2="708.3" stroke="#000" stroke-width="1.8"/>
<text font-size="13" text-anchor="end" transform="translate(641 713.45) rotate(0.05) scale(1 1.04)">-0.1</text>
<line x1="697" y1="708.3" x2="697" y2="716.3" stroke="#000" stroke-width="1.8"/>
<text font-size="13.2" text-anchor="middle" transform="translate(697.4 729.8) rotate(0.05) scale(1 1.04)">N group</text>
<line x1="767.5" y1="708.3" x2="767.5" y2="716.3" stroke="#000" stroke-width="1.8"/>
<text font-size="13.2" text-anchor="middle" transform="translate(767.9 729.8) rotate(0.05) scale(1 1.04)">AD group</text>
<line x1="838" y1="708.3" x2="838" y2="716.3" stroke="#000" stroke-width="1.8"/>
<text font-size="13.2" text-anchor="middle" transform="translate(838.4 729.8) rotate(0.05) scale(1 1.04)">MA group</text>
<line x1="908.5" y1="708.3" x2="908.5" y2="716.3" stroke="#000" stroke-width="1.8"/>
<text font-size="13.2" text-anchor="middle" transform="translate(908.9 729.8) rotate(0.05) scale(1 1.04)">MAa group</text>
<line x1="979" y1="708.3" x2="979" y2="716.3" stroke="#000" stroke-width="1.8"/>
<text font-size="13.2" text-anchor="middle" transform="translate(979.4 729.8) rotate(0.05) scale(1 1.04)">P group</text>
<text y="5.38" font-size="16.6" text-anchor="middle" transform="translate(584.1 597.4) rotate(-90.05) scale(1 1.04)">Proportion of the</text>
<text y="5.38" font-size="16.6" text-anchor="middle" transform="translate(604.6 597.4) rotate(-90.05) scale(1 1.04)">Escherichia-Shigella</text>
<line x1="685.75" y1="647.5" x2="708.75" y2="647.5" stroke="#000" stroke-width="1.4"/>
<line x1="685.75" y1="652.5" x2="708.75" y2="652.5" stroke="#000" stroke-width="1.4"/>
<line x1="697" y1="647.5" x2="697" y2="652.5" stroke="#000" stroke-width="1.4"/>
<rect x="674" y="649.6" width="46.5" height="2.4" fill="#000"/>
<line x1="767.75" y1="533.2" x2="767.75" y2="563.2" stroke="#000" stroke-width="1.7"/>
<line x1="767.75" y1="623.2" x2="767.75" y2="648.2" stroke="#000" stroke-width="1.7"/>
<line x1="756.25" y1="533.2" x2="779.25" y2="533.2" stroke="#000" stroke-width="1.7"/>
<line x1="756.25" y1="648.2" x2="779.25" y2="648.2" stroke="#000" stroke-width="1.7"/>
<rect x="745" y="563.2" width="45.5" height="60" fill="#ff4040" stroke="#000" stroke-width="1.7"/>
<line x1="745" y1="597" x2="790.5" y2="597" stroke="#000" stroke-width="1.7"/>
<rect x="815" y="650.6" width="46.5" height="3.4" fill="#000"/>
<rect x="955.75" y="650.6" width="46.7" height="3.4" fill="#000"/>
<line x1="897.5" y1="613" x2="920.5" y2="613" stroke="#000" stroke-width="1.6"/>
<line x1="909" y1="521" x2="909" y2="531.1" stroke="#000" stroke-width="1.7"/>
<line x1="909" y1="612" x2="909" y2="612.5" stroke="#000" stroke-width="1.7"/>
<line x1="897.5" y1="521" x2="920.5" y2="521" stroke="#000" stroke-width="1.7"/>
<line x1="897.5" y1="612.5" x2="920.5" y2="612.5" stroke="#000" stroke-width="1.7"/>
<rect x="886.3" y="531.1" width="45.4" height="80.9" fill="#ffff00" stroke="#000" stroke-width="1.7"/>
<line x1="886.3" y1="607" x2="931.7" y2="607" stroke="#000" stroke-width="1.6"/>
<text y="529.6" text-anchor="middle" font-weight="normal" transform="rotate(0.05 767.75 529.6)"><tspan x="767.75" font-size="8.87">♦</tspan></text>
<text y="516.8" text-anchor="middle" font-weight="normal" transform="rotate(0.05 909 516.8)"><tspan x="909" font-size="8.87">♦</tspan></text>
<text y="646.94" text-anchor="middle" font-weight="normal" transform="rotate(0.05 838 646.94)"><tspan x="832.75" font-size="8.67">♦</tspan><tspan x="838" font-size="9.26">●</tspan><tspan x="843.25" font-size="8.23">■</tspan></text>
<text y="646.94" text-anchor="middle" font-weight="normal" transform="rotate(0.05 979 646.94)"><tspan x="973.75" font-size="8.67">♦</tspan><tspan x="979" font-size="9.26">●</tspan><tspan x="984.25" font-size="8.23">■</tspan></text>
</g>
<!-- Panel F: phylum bar plot -->
<g id="panel-f">
<line x1="1127" y1="579.2" x2="1136.5" y2="579.2" stroke="#000" stroke-width="1.9"/>
<text font-size="16" text-anchor="end" transform="translate(1125 585.93) rotate(0.05) scale(1 1.04)">1.2</text>
<line x1="1127" y1="622.8" x2="1136.5" y2="622.8" stroke="#000" stroke-width="1.9"/>
<text font-size="16" text-anchor="end" transform="translate(1125 629.53) rotate(0.05) scale(1 1.04)">0.8</text>
<line x1="1127" y1="666.4" x2="1136.5" y2="666.4" stroke="#000" stroke-width="1.9"/>
<text font-size="16" text-anchor="end" transform="translate(1125 673.13) rotate(0.05) scale(1 1.04)">0.4</text>
<text y="4.42" font-size="13.5" text-anchor="middle" transform="translate(1070.5 643.75) rotate(-90.05) scale(1 1.04)">Proportion of sequences</text>
<text y="4.42" font-size="13.5" text-anchor="middle" transform="translate(1087.5 643.75) rotate(-90.05) scale(1 1.04)">on Phylum level</text>
<line x1="1162.5" y1="617" x2="1162.5" y2="631.25" stroke="#000" stroke-width="1.3"/>
<line x1="1156.2" y1="617" x2="1168.8" y2="617" stroke="#000" stroke-width="1.3"/>
<rect x="1150" y="631.25" width="25" height="78.25" fill="#c13fe8" stroke="#000" stroke-width="1.25"/>
<line x1="1192.15" y1="645.5" x2="1192.15" y2="671.25" stroke="#000" stroke-width="1.3"/>
<line x1="1185.85" y1="645.5" x2="1198.45" y2="645.5" stroke="#000" stroke-width="1.3"/>
<rect x="1179.65" y="671.25" width="25" height="38.25" fill="#ff4040" stroke="#000" stroke-width="1.25"/>
<line x1="1221.8" y1="620" x2="1221.8" y2="633.25" stroke="#000" stroke-width="1.3"/>
<line x1="1215.5" y1="620" x2="1228.1" y2="620" stroke="#000" stroke-width="1.3"/>
<rect x="1209.3" y="633.25" width="25" height="76.25" fill="#40ff40" stroke="#000" stroke-width="1.25"/>
<line x1="1281.1" y1="642.3" x2="1281.1" y2="643.5" stroke="#000" stroke-width="1.3"/>
<line x1="1274.8" y1="642.3" x2="1287.4" y2="642.3" stroke="#000" stroke-width="1.3"/>
<rect x="1268.6" y="643.5" width="25" height="66" fill="#4040ff" stroke="#000" stroke-width="1.25"/>
<text y="641.85" text-anchor="middle" font-weight="normal" transform="rotate(0.05 1192.15 641.85)"><tspan x="1192.15" font-size="11.43">♦</tspan></text>
<text y="616.47" text-anchor="middle" font-weight="normal" transform="rotate(0.05 1222.1 616.47)"><tspan x="1219.2" font-size="10.84">●</tspan><tspan x="1225" font-size="9.63">■</tspan></text>
<text y="702.47" text-anchor="middle" font-weight="normal" transform="rotate(0.05 1252.05 702.47)"><tspan x="1249.15" font-size="10.15">♦</tspan><tspan x="1254.95" font-size="10.84">●</tspan></text>
<text y="638.47" text-anchor="middle" font-weight="normal" transform="rotate(0.05 1281.4 638.47)"><tspan x="1278.5" font-size="10.84">●</tspan><tspan x="1284.3" font-size="9.63">■</tspan></text>
<line x1="1330.4" y1="708.6" x2="1342.4" y2="708.6" stroke="#000" stroke-width="1"/>
<line x1="1366.05" y1="674" x2="1366.05" y2="690" stroke="#000" stroke-width="1.3"/>
<line x1="1359.75" y1="674" x2="1372.35" y2="674" stroke="#000" stroke-width="1.3"/>
<rect x="1353.55" y="690" width="25" height="19.5" fill="#ff4040" stroke="#000" stroke-width="1.25"/>
<line x1="1425.35" y1="602.4" x2="1425.35" y2="602.75" stroke="#000" stroke-width="1.3"/>
<line x1="1419.05" y1="602.4" x2="1431.65" y2="602.4" stroke="#000" stroke-width="1.3"/>
<rect x="1412.85" y="602.75" width="25" height="106.75" fill="#ffff00" stroke="#000" stroke-width="1.25"/>
<text y="669.35" text-anchor="middle" font-weight="normal" transform="rotate(0.05 1366.05 669.35)"><tspan x="1366.05" font-size="11.43">♦</tspan></text>
<text y="702.37" text-anchor="middle" font-weight="normal" transform="rotate(0.05 1396 702.37)"><tspan x="1393.1" font-size="10.84">●</tspan><tspan x="1398.9" font-size="9.63">■</tspan></text>
<text y="595.97" text-anchor="middle" font-weight="normal" transform="rotate(0.05 1425.65 595.97)"><tspan x="1422.75" font-size="10.15">♦</tspan><tspan x="1428.55" font-size="10.84">●</tspan></text>
<text y="702.77" text-anchor="middle" font-weight="normal" transform="rotate(0.05 1456.8 702.77)"><tspan x="1453.9" font-size="10.84">●</tspan><tspan x="1459.7" font-size="9.63">■</tspan></text>
<line x1="1510.5" y1="673.5" x2="1510.5" y2="687" stroke="#000" stroke-width="1.3"/>
<line x1="1504.2" y1="673.5" x2="1516.8" y2="673.5" stroke="#000" stroke-width="1.3"/>
<rect x="1498" y="687" width="25" height="22.5" fill="#c13fe8" stroke="#000" stroke-width="1.25"/>
<line x1="1540.15" y1="652.25" x2="1540.15" y2="669.25" stroke="#000" stroke-width="1.3"/>
<line x1="1533.85" y1="652.25" x2="1546.45" y2="652.25" stroke="#000" stroke-width="1.3"/>
<rect x="1527.65" y="669.25" width="25" height="40.25" fill="#ff4040" stroke="#000" stroke-width="1.25"/>
<line x1="1569.8" y1="674" x2="1569.8" y2="684.5" stroke="#000" stroke-width="1.3"/>
<line x1="1563.5" y1="674" x2="1576.1" y2="674" stroke="#000" stroke-width="1.3"/>
<rect x="1557.3" y="684.5" width="25" height="25" fill="#40ff40" stroke="#000" stroke-width="1.25"/>
<line x1="1593.45" y1="708.3" x2="1605.45" y2="708.3" stroke="#000" stroke-width="1"/>
<line x1="1629.1" y1="662.5" x2="1629.1" y2="675.75" stroke="#000" stroke-width="1.3"/>
<line x1="1622.8" y1="662.5" x2="1635.4" y2="662.5" stroke="#000" stroke-width="1.3"/>
<rect x="1616.6" y="675.75" width="25" height="33.75" fill="#4040ff" stroke="#000" stroke-width="1.25"/>
<text y="647.6" text-anchor="middle" font-weight="normal" transform="rotate(0.05 1540.15 647.6)"><tspan x="1540.15" font-size="11.43">♦</tspan></text>
<text y="669.97" text-anchor="middle" font-weight="normal" transform="rotate(0.05 1569.8 669.97)"><tspan x="1569.8" font-size="9.63">■</tspan></text>
<text y="701.97" text-anchor="middle" font-weight="normal" transform="rotate(0.05 1599.75 701.97)"><tspan x="1596.85" font-size="10.15">♦</tspan><tspan x="1602.65" font-size="10.84">●</tspan></text>
<text y="658.22" text-anchor="middle" font-weight="normal" transform="rotate(0.05 1629.1 658.22)"><tspan x="1629.1" font-size="9.63">■</tspan></text>
<path d="M1136.5 578.25V709.5H1656.5" fill="none" stroke="#000" stroke-width="1.9"/>
<line x1="1221.8" y1="709.5" x2="1221.8" y2="718.5" stroke="#000" stroke-width="1.9"/>
<text font-size="16.55" text-anchor="middle" transform="translate(1221.8 736.22) rotate(0.05) scale(1 1.04)">Bacteroidota</text>
<line x1="1395.7" y1="709.5" x2="1395.7" y2="718.5" stroke="#000" stroke-width="1.9"/>
<text font-size="16.55" text-anchor="middle" transform="translate(1395.7 736.22) rotate(0.05) scale(1 1.04)">Proteobacteria</text>
<line x1="1569.8" y1="709.5" x2="1569.8" y2="718.5" stroke="#000" stroke-width="1.9"/>
<text font-size="16.55" text-anchor="middle" transform="translate(1569.8 736.22) rotate(0.05) scale(1 1.04)">Firmicutes</text>
<rect x="1674.3" y="581.25" width="18.6" height="11" fill="#b324e8" stroke="#000" stroke-width="1"/>
<text font-size="13.45" font-weight="normal" fill="#111" transform="translate(1702.8 591.87) rotate(0.05) scale(1 1.04)" word-spacing="1.2">N group</text>
<rect x="1674.3" y="603.75" width="18.6" height="11" fill="#ff1c1c" stroke="#000" stroke-width="1"/>
<text font-size="13.45" font-weight="normal" fill="#111" transform="translate(1704.5 615.57) rotate(0.05) scale(1 1.04)" word-spacing="1.2">AD group</text>
<rect x="1674.3" y="625" width="18.6" height="11" fill="#1cff1c" stroke="#000" stroke-width="1"/>
<text font-size="13.45" font-weight="normal" fill="#111" transform="translate(1704.5 635.62) rotate(0.05) scale(1 1.04)" word-spacing="1.2">MA group</text>
<rect x="1674.3" y="648" width="18.6" height="11" fill="#ffff1c" stroke="#000" stroke-width="1"/>
<text font-size="13.45" font-weight="normal" fill="#111" transform="translate(1704.5 659.62) rotate(0.05) scale(1 1.04)" word-spacing="1.2">MAa group</text>
<rect x="1674.3" y="670.25" width="18.6" height="11" fill="#1c1cff" stroke="#000" stroke-width="1"/>
<text font-size="13.45" font-weight="normal" fill="#111" transform="translate(1705 681.37) rotate(0.05) scale(1 1.04)" word-spacing="1.2">P group</text>
</g>
<g id="panel-labels">
<text transform="translate(4.3 26.9) rotate(0.05) scale(1.04 1)" font-size="32.5" stroke="#000" stroke-width="0.8" stroke-linejoin="round">A</text>
<text transform="translate(600.6 27) rotate(0.05) scale(0.97 1)" font-size="32.5" stroke="#000" stroke-width="0.8" stroke-linejoin="round">B</text>
<text transform="translate(3.4 385) rotate(0.05) scale(0.94 1.02)" font-size="32.5" stroke="#000" stroke-width="0.8" stroke-linejoin="round">C</text>
<text transform="translate(1073.3 26.4) rotate(0.05) scale(0.97 0.975)" font-size="32.5" stroke="#000" stroke-width="0.8" stroke-linejoin="round">D</text>
<text transform="translate(601 436) rotate(0.05) scale(0.94 1)" font-size="32.5" stroke="#000" stroke-width="0.8" stroke-linejoin="round">E</text>
<text transform="translate(1067.2 529.2) rotate(0.05) scale(0.91 1.01)" font-size="32.5" stroke="#000" stroke-width="0.8" stroke-linejoin="round">F</text>
</g>
</svg>
</body>
</html>
